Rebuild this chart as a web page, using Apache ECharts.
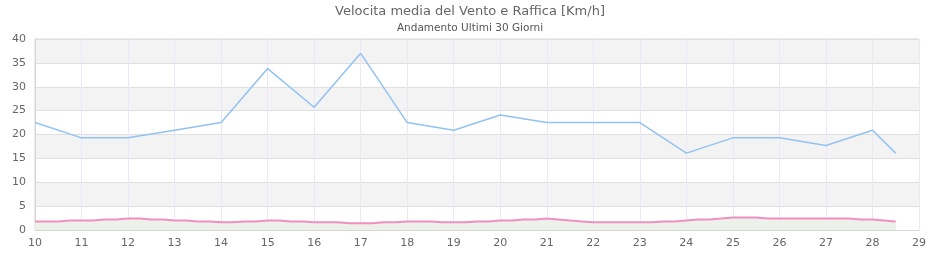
<!DOCTYPE html>
<html><head><meta charset="utf-8">
<script src="https://cdn.jsdelivr.net/npm/echarts@6/dist/echarts.min.js"></script>
<style>html,body{margin:0;padding:0;background:#fff}#c{width:940px;height:260px}</style>
</head><body><div id="c"></div>
<script>
var titleText = 'Velocita media del Vento e Raffica [Km/h]';
var subtitleText = 'Andamento Ultimi 30 Giorni';
var xTicks = [10,11,12,13,14,15,16,17,18,19,20,21,22,23,24,25,26,27,28,29];
var yTicks = [0,5,10,15,20,25,30,35,40];
var gustDays = [10,11,12,13,14,15,16,17,18,19,20,21,22,23,24,25,26,27,28,28.5];
var gustValues = [22.5,19.3,19.3,20.9,22.5,33.8,25.7,37.0,22.5,20.9,24.1,22.5,22.5,22.5,16.1,19.3,19.3,17.7,20.9,16.1];
var meanDays = [10,10.25,10.5,10.75,11,11.25,11.5,11.75,12,12.25,12.5,12.75,13,13.25,13.5,13.75,14,14.25,14.5,14.75,15,15.25,15.5,15.75,16,16.25,16.5,16.75,17,17.25,17.5,17.75,18,18.25,18.5,18.75,19,19.25,19.5,19.75,20,20.25,20.5,20.75,21,21.25,21.5,21.75,22,22.25,22.5,22.75,23,23.25,23.5,23.75,24,24.25,24.5,24.75,25,25.25,25.5,25.75,26,26.25,26.5,26.75,27,27.25,27.5,27.75,28,28.25,28.5];
var meanValues = [1.8,1.8,1.8,2.0,2.0,2.0,2.2,2.2,2.4,2.4,2.2,2.2,2.0,2.0,1.8,1.8,1.6,1.6,1.8,1.8,2.0,2.0,1.8,1.8,1.6,1.6,1.6,1.4,1.4,1.4,1.6,1.6,1.8,1.8,1.8,1.6,1.6,1.6,1.8,1.8,2.0,2.0,2.2,2.2,2.4,2.2,2.0,1.8,1.6,1.6,1.6,1.6,1.6,1.6,1.8,1.8,2.0,2.2,2.2,2.4,2.6,2.6,2.6,2.4,2.4,2.4,2.4,2.4,2.4,2.4,2.4,2.2,2.2,2.0,1.8];

function pairs(xs, ys){ return xs.map(function(x,i){return [x, ys[i]];}); }

var chart = echarts.init(document.getElementById('c'), null, {renderer:'canvas'});
var font = 'DejaVu Sans';
chart.setOption({
  animation:false,
  textStyle:{fontFamily:font},
  title:{
    text:titleText, subtext:subtitleText, left:'center', top:0, itemGap:5,
    textStyle:{fontFamily:font, fontSize:13, fontWeight:'normal', color:'#666'},
    subtextStyle:{fontFamily:font, fontSize:10.5, color:'#555'}
  },
  grid:{left:35, right:21, top:39, bottom:30, show:true, borderColor:'#d6d6d6', borderWidth:1, backgroundColor:'transparent'},
  xAxis:{
    type:'value', min:xTicks[0], max:xTicks[xTicks.length-1], interval:1,
    axisLine:{show:true, lineStyle:{color:'#d6d6d6'}},
    axisTick:{show:false},
    axisLabel:{color:'#666', fontSize:11, margin:8, fontFamily:font,
      formatter:function(v){return xTicks.indexOf(v)>=0?String(v):'';}},
    splitLine:{show:true, lineStyle:{color:'#e8e8f8', width:1}}
  },
  yAxis:{
    type:'value', min:yTicks[0], max:yTicks[yTicks.length-1], interval:5,
    axisLine:{show:true, lineStyle:{color:'#d6d6d6'}},
    axisTick:{show:false},
    axisLabel:{color:'#666', fontSize:11, margin:9, fontFamily:font},
    splitLine:{show:true, lineStyle:{color:'#e0e0e0', width:1}},
    splitArea:{show:true, areaStyle:{color:['#ffffff','#f3f3f3']}}
  },
  series:[
    {type:'line', name:'Raffica', data:pairs(gustDays,gustValues), showSymbol:false, symbol:'none',
      lineStyle:{color:'#92c2f2', width:1.5}},
    {type:'line', name:'Velocita media', data:pairs(meanDays,meanValues), showSymbol:false, symbol:'none',
      lineStyle:{color:'#f08fc2', width:2},
      areaStyle:{color:'#ecf1ea', opacity:1}}
  ]
});
</script>
</body></html>
